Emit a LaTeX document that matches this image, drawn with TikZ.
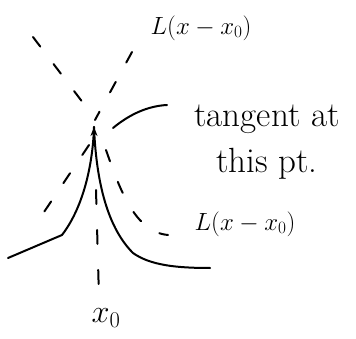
\documentclass[tikz,border=0pt]{standalone}
\usetikzlibrary{arrows.meta}
\begin{document}
\begin{tikzpicture}[x=1pt,y=-1pt,line cap=round,line join=round,
  hand/.style={line width=2pt},
  dsh/.style={line width=2pt,dash pattern=on 12pt off 22pt},
  lbl/.style={inner sep=0pt}]
\useasboundingbox (0,0) rectangle (356,339);
% labels
\node[lbl] (top) at (201,28) {\fontsize{25}{28}\selectfont $L(x-x_0)$};
\node[lbl,align=center,font=\fontsize{35}{46}\selectfont] (tan) at (267,142) {tangent at\\this pt.};
\node[lbl] (low) at (245,224) {\fontsize{25}{28}\selectfont $L(x-x_0)$};
\node[lbl,scale=1.3] (xo) at (106,318) {\fontsize{25}{28}\selectfont $x_0$};
% key points
\coordinate (tip) at (94,127);
\coordinate (L) at (8,258);
\coordinate (R) at (210,268);
\coordinate (tp) at (113,128);
\coordinate (tq) at (167,105);
\coordinate (ul) at (33,37);
\coordinate (ur) at (132,52);
\coordinate (ll) at (40,218);
\coordinate (lr) at (168,235);
\coordinate (vb) at (99,298);
% cusp
\draw[hand] (L) -- (62,235) .. controls (85,205) and (93,160) .. (tip);
\draw[hand] (tip) .. controls (96,175) and (105,225) .. (133,253) .. controls (150,265) and (175,268) .. (R);
\draw[hand,-{Stealth[length=9pt,width=7pt]}] (94,145) -- (tip);
% tangent pointer
\draw[hand] (tp) .. controls (130,114) and (148,106) .. (tq);
% dashed lines
\draw[dsh] (ul) -- (90,112);
\draw[dsh] (ur) -- (95,120);
\draw[dsh] (89,145) -- (ll);
\draw[dsh] (106,150) .. controls (120,190) and (135,232) .. (lr);
\draw[dsh,dash pattern=on 14pt off 26pt] (96,190) -- (vb);
\end{tikzpicture}
\end{document}
